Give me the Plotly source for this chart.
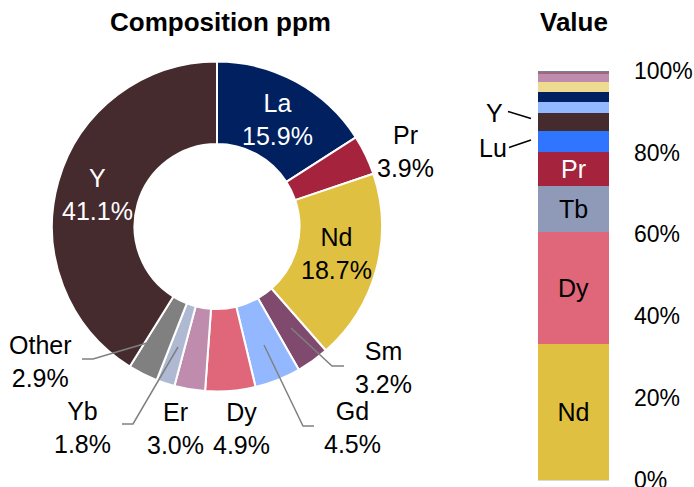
import plotly.graph_objects as go

# ---------------- data ----------------
pie_labels = ["La", "Pr", "Nd", "Sm", "Gd", "Dy", "Er", "Yb", "Other", "Y"]
pie_values = [15.9, 3.9, 18.7, 3.2, 4.5, 4.9, 3.0, 1.8, 2.9, 41.1]
pie_colors = ["#002060", "#A5233C", "#E0C040", "#7F4A6E", "#94B8FF",
              "#E0667A", "#C08CAE", "#AFBAD2", "#808080", "#462B2E"]

bar_labels = ["Nd", "Dy", "Tb", "Pr", "Lu", "Y", "Gd", "La", "Ho", "Er", "Sm", "Other"]
bar_values = [33.2, 27.4, 11.3, 8.2, 5.2, 4.5, 2.7, 2.4, 2.3, 2.0, 0.6, 0.2]
bar_colors = ["#E0C040", "#E0667A", "#8E9AB8", "#A5233C", "#2F75FF", "#462B2E",
              "#94B8FF", "#002060", "#EEDA90", "#C08CAE", "#A06878", "#7080A0"]
bar_shown = ["Nd", "Dy", "Tb", "Pr"]
bar_text_color = {"Pr": "white"}

y_ticks = [0, 20, 40, 60, 80, 100]

FONT = "Liberation Sans, Arial, sans-serif"
W, H = 694, 487


def px(x):
    return x / W


def py(y):
    return 1 - y / H


fig = go.Figure()

# ---------------- donut ----------------
cx, cy, R = 217, 226.5, 165
fig.add_trace(go.Pie(
    labels=pie_labels, values=pie_values, sort=False, direction="clockwise",
    rotation=0, hole=0.5, textinfo="none", showlegend=False,
    marker=dict(colors=pie_colors, line=dict(color="white", width=2)),
    domain=dict(x=[px(cx - R), px(cx + R)], y=[py(cy + R), py(cy - R)]),
    hoverinfo="label+percent", automargin=False,
))

# ---------------- stacked bar ----------------
for name, val, col in zip(bar_labels, bar_values, bar_colors):
    fig.add_trace(go.Bar(
        x=["Value"], y=[val], name=name, marker=dict(color=col, line=dict(width=0)),
        text=[name if name in bar_shown else ""], textposition="inside",
        insidetextanchor="middle", constraintext="none",
        textfont=dict(size=25, family=FONT, color=bar_text_color.get(name, "black")),
        showlegend=False, xaxis="x", yaxis="y",
    ))

bar_left, bar_right, bar_top, bar_bottom = 538, 609, 70.7, 480

fig.update_layout(
    width=W, height=H, margin=dict(l=0, r=0, t=0, b=0, autoexpand=False),
    paper_bgcolor="white", plot_bgcolor="white",
    barmode="stack", bargap=0,
    font=dict(family=FONT, color="black"),
    xaxis=dict(domain=[px(bar_left), px(bar_right)], showticklabels=False,
               showgrid=False, zeroline=False, showline=True,
               linecolor="#D9D9D9", linewidth=1, fixedrange=True),
    yaxis=dict(domain=[py(bar_bottom), py(bar_top)], range=[0, 100], side="right",
               tickvals=y_ticks, ticktext=[f"{v}%" for v in y_ticks],
               showgrid=False, zeroline=False, showline=False, ticks="",
               ticklabelstandoff=24, ticklabeloverflow="allow",
               tickfont=dict(size=23, family=FONT, color="black"), fixedrange=True),
)

ann = []


def add_text(text, x, y, color="black", size=25, bold=False):
    if bold:
        text = f"<b>{text}</b>"
    ann.append(dict(text=text, x=px(x), y=py(y), xref="paper", yref="paper",
                    xanchor="center", yanchor="middle", showarrow=False,
                    font=dict(size=size, family=FONT, color=color)))


add_text("Composition ppm", 221, 22, size=26, bold=True)
add_text("Value", 574, 22, size=26, bold=True)

pie_pos = {
    "La": (277, 119, "white"), "Pr": (405, 152, "black"), "Nd": (336, 254, "black"),
    "Sm": (383, 367, "black"), "Gd": (352, 427, "black"), "Dy": (241, 428, "black"),
    "Er": (175, 428, "black"), "Yb": (82, 427, "black"), "Other": (40, 361, "black"),
    "Y": (97, 194, "white"),
}
for name, val in zip(pie_labels, pie_values):
    x, y, c = pie_pos[name]
    add_text(f"{name}<br>{val:.1f}%", x, y, color=c)

add_text("Y", 494, 113)
add_text("Lu", 493, 148)

shapes = []


def add_path(points, color, width=1.5):
    d = "M " + " L ".join(f"{px(x):.5f},{py(y):.5f}" for x, y in points)
    shapes.append(dict(type="path", path=d, xref="paper", yref="paper",
                       line=dict(color=color, width=width)))


add_path([(291, 328), (332, 366), (344, 366)], "#808080")
add_path([(264, 345), (303, 426), (314, 426)], "#808080")
add_path([(178, 347), (133, 424), (122, 424)], "#808080")
add_path([(147, 343), (93, 359), (82, 359)], "#808080")
add_path([(508, 111.5), (531, 118.5)], "black")
add_path([(509, 147.5), (531, 140)], "black")

fig.update_layout(annotations=ann, shapes=shapes)
fig.write_html(
    "out.html",
    config={"displayModeBar": False},
    post_script="document.documentElement.style.margin='0';"
                "document.body.style.margin='0';document.body.style.padding='0';"
                "document.body.style.overflow='hidden';",
)
